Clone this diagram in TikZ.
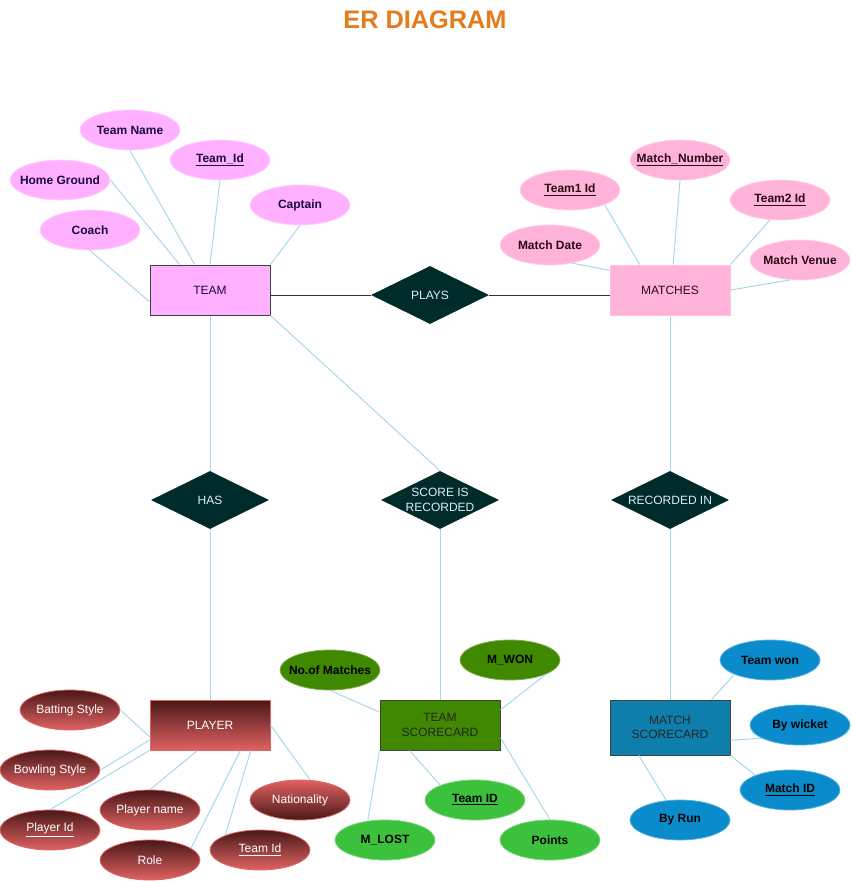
\documentclass[tikz,border=0pt]{standalone}
\usepackage{fontspec}
\setmainfont{Liberation Sans}
\usetikzlibrary{shapes.geometric}

\definecolor{teampink}{HTML}{FFB0FF}
\definecolor{teamtext}{HTML}{1A0A40}
\definecolor{matchpink}{HTML}{FFB3D9}
\definecolor{matchtext}{HTML}{2A0A14}
\definecolor{reldark}{HTML}{002B2B}
\definecolor{reltext}{HTML}{D6F0F8}
\definecolor{linkblue}{HTML}{A6D8EC}
\definecolor{maroondark}{HTML}{4A1818}
\definecolor{maroonlight}{HTML}{E06262}
\definecolor{scoregreen}{HTML}{3F8800}
\definecolor{lightgreen}{HTML}{3CC13C}
\definecolor{cardblue}{HTML}{0E7FAD}
\definecolor{attrblue}{HTML}{0A8CCC}
\definecolor{titleorange}{HTML}{E47C1C}

\begin{document}
\begin{tikzpicture}
   [x=0.75pt, y=-0.75pt,
    entity/.style={rectangle, minimum width=90pt, minimum height=37.5pt, inner sep=0pt,
       line width=0.75pt, align=center, font=\fontsize{9}{11}\selectfont},
    attr/.style={ellipse, minimum width=75pt, minimum height=30pt, inner xsep=-8pt,
       inner ysep=0pt, line width=0.6pt, font=\fontsize{9}{11}\selectfont\bfseries},
    weak/.style={attr, font=\fontsize{9}{11}\selectfont, text=white, draw=maroonlight},
    rel/.style={diamond, fill=reldark, minimum width=88.5pt, minimum height=43.5pt,
       inner xsep=-15pt, inner ysep=-5pt, align=center, text=reltext,
       font=\fontsize{9}{11}\selectfont},
    link/.style={draw=linkblue, line width=0.75pt},
    joint/.style={draw=black!80, line width=0.75pt}]
   \useasboundingbox (0,0) rectangle (852,881);

   \node[font=\fontsize{19}{23}\selectfont\bfseries, text=titleorange] (heading) at (425,20) {ER DIAGRAM};

   \node[entity, fill=teampink, draw=black!75, text=teamtext] (team) at (210,290) {TEAM};
   \node[attr, fill=teampink, draw=teampink!60!white, text=teamtext] (teamname) at (130,130) {Team Name};
   \node[attr, fill=teampink, draw=teampink!60!white, text=teamtext] (teamid) at (220,160) {\underline{Team\_Id}};
   \node[attr, fill=teampink, draw=teampink!60!white, text=teamtext] (homeground) at (60,180) {Home Ground};
   \node[attr, fill=teampink, draw=teampink!60!white, text=teamtext] (coach) at (90,230) {Coach};
   \node[attr, fill=teampink, draw=teampink!60!white, text=teamtext] (captain) at (300,205) {Captain};

   \node[entity, fill=matchpink, draw=matchpink!80!white, text=matchtext] (matches) at (670,290) {MATCHES};
   \node[attr, fill=matchpink, draw=matchpink!60!white, text=matchtext] (team1id) at (570,190) {\underline{Team1 Id}};
   \node[attr, fill=matchpink, draw=matchpink!60!white, text=matchtext] (matchno) at (680,160) {\underline{Match\_Number}};
   \node[attr, fill=matchpink, draw=matchpink!60!white, text=matchtext] (team2id) at (780,200) {\underline{Team2 Id}};
   \node[attr, fill=matchpink, draw=matchpink!60!white, text=matchtext] (matchdate) at (550,245) {Match Date};
   \node[attr, fill=matchpink, draw=matchpink!60!white, text=matchtext] (matchvenue) at (800,260) {Match Venue};

   \node[rel] (plays) at (430,295) {PLAYS};
   \node[rel] (has) at (210,500) {HAS};
   \node[rel] (scorerec) at (440,500) {SCORE IS\\RECORDED};
   \node[rel] (recin) at (670,500) {RECORDED IN};

   \node[entity, top color=maroondark, bottom color=maroonlight, draw=maroonlight, text=white] (player) at (210,725) {PLAYER};
   \node[weak, top color=maroondark, bottom color=maroonlight] (batting) at (70,710) {Batting Style};
   \node[weak, top color=maroondark, bottom color=maroonlight] (bowling) at (50,770) {Bowling Style};
   \node[weak, top color=maroondark, bottom color=maroonlight] (playerid) at (50,830) {\underline{Player Id}};
   \node[weak, top color=maroondark, bottom color=maroonlight] (playername) at (150,810) {Player name};
   \node[weak, top color=maroondark, bottom color=maroonlight] (role) at (150,860) {Role};
   \node[weak, top color=maroondark, bottom color=maroonlight] (pteamid) at (260,850) {\underline{Team Id}};
   \node[weak, top color=maroonlight, bottom color=maroondark] (nationality) at (300,800) {Nationality};

   \node[entity, fill=scoregreen, draw=black!75, text=black!85] (teamcard) at (440,725) {TEAM\\SCORECARD};
   \node[attr, fill=scoregreen, draw=scoregreen!70!white, text=black] (nmatches) at (330,670) {No.of Matches};
   \node[attr, fill=scoregreen, draw=scoregreen!70!white, text=black] (mwon) at (510,660) {M\_WON};
   \node[attr, fill=lightgreen, draw=lightgreen!70!white, text=black] (cteamid) at (475,800) {\underline{Team ID}};
   \node[attr, fill=lightgreen, draw=lightgreen!70!white, text=black] (mlost) at (385,840) {M\_LOST};
   \node[attr, fill=lightgreen, draw=lightgreen!70!white, text=black] (points) at (550,840) {Points};

   \node[entity, minimum height=41.25pt, fill=cardblue, draw=black!75, text=black!85] (matchcard) at (670,727.5) {MATCH\\SCORECARD};
   \node[attr, fill=attrblue, draw=attrblue!70!white, text=black] (teamwon) at (770,660) {Team won};
   \node[attr, fill=attrblue, draw=attrblue!70!white, text=black] (bywicket) at (800,725) {By wicket};
   \node[attr, fill=attrblue, draw=attrblue!70!white, text=black] (cmatchid) at (790,790) {\underline{Match ID}};
   \node[attr, fill=attrblue, draw=attrblue!70!white, text=black] (byrun) at (680,820) {By Run};

   \draw[link] (teamname.south) -- (team.121);
   \draw[link] (teamid.south) -- (team.north);
   \draw[link] (homeground.east) -- (team.140);
   \draw[link] (coach.south) -- (team.191);
   \draw[link] (captain.south) -- (team.north east);

   \draw[link] (team1id.337) -- (matches.140);
   \draw[link] (matchno.south) -- (matches.83);
   \draw[link] (team2id.243) -- (matches.north east);
   \draw[link] (matchdate.321) -- (matches.162);
   \draw[link] (matchvenue.243) -- (matches.east);

   \draw[joint] (plays.west) -- (plays.west -| team.east);
   \draw[joint] (plays.east) -- (plays.east -| matches.west);

   \draw[link] (team) -- (has);
   \draw[link] (has) -- (player);
   \draw[link] (team.south east) -- (scorerec.north);
   \draw[link] (scorerec) -- (teamcard);
   \draw[link] (matches) -- (recin);
   \draw[link] (recin) -- (matchcard);

   \draw[link] (batting.east) -- (player.191);
   \draw[link] (bowling.east) -- (player.194);
   \draw[link] (playerid.north) -- (player.south west);
   \draw[link] (playername.north) -- (player.244);
   \draw[link] (role.16) -- (player.320);
   \draw[link] (pteamid.157) -- (player.328);
   \draw[link] (nationality.63) -- (player.east);

   \draw[link] (nmatches.south) -- (teamcard.168);
   \draw[link] (mwon.south east) -- (teamcard.14);
   \draw[link] (cteamid.157) -- (teamcard.220);
   \draw[link] (mlost.132) -- (teamcard.south west);
   \draw[link] (points.north) -- (teamcard.348);

   \draw[link] (teamwon.south west) -- (matchcard.34);
   \draw[link] (bywicket.199) -- (matchcard.348);
   \draw[link] (cmatchid.157) -- (matchcard.south east);
   \draw[link] (byrun.125) -- (matchcard.222);
\end{tikzpicture}
\end{document}
